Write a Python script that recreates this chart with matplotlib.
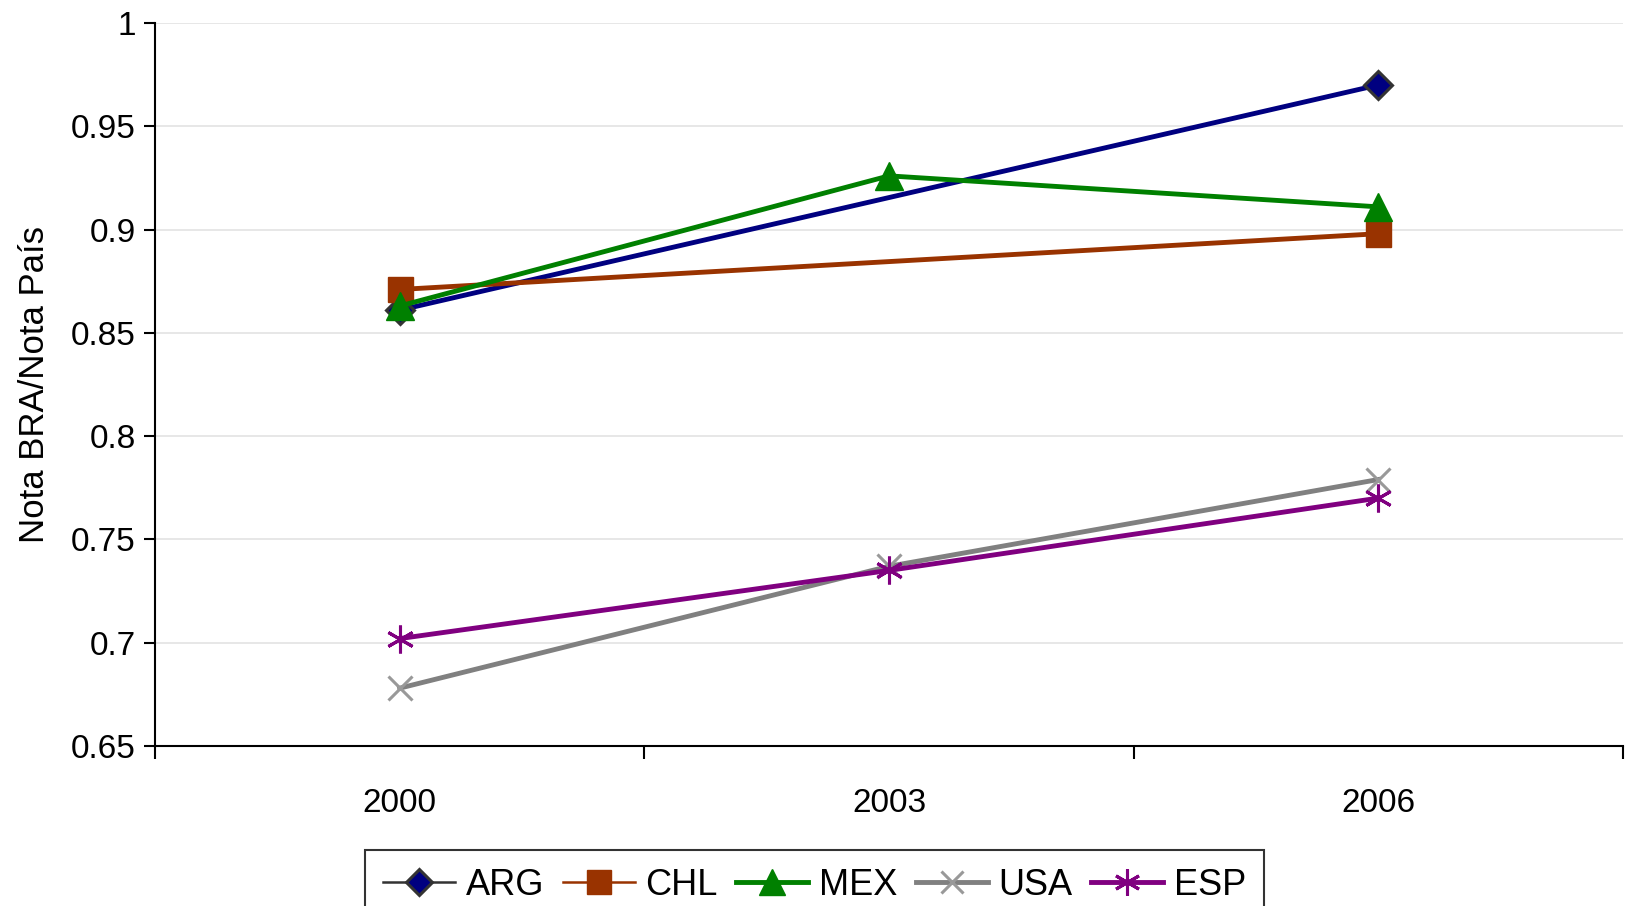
import numpy as np
import matplotlib
matplotlib.use("Agg")
import matplotlib.pyplot as plt
from matplotlib.lines import Line2D

plt.rcParams['font.family'] = ['Liberation Sans', 'DejaVu Sans']

years = ['2000', '2003', '2006']
arg = [0.861, np.nan, 0.970]
chl = [0.871, np.nan, 0.898]
mex = [0.863, 0.926, 0.911]
usa = [0.678, 0.737, 0.779]
esp = [0.702, 0.735, 0.770]

series = [
    # name, values, line colour, marker, marker face, marker edge, ms, legend line colour, legend lw
    ('ARG', arg, '#000080', 'D', '#000080', '#333333', 14, '#333333', 1.8),
    ('CHL', chl, '#993300', 's', '#993300', '#993300', 18, '#993300', 1.8),
    ('MEX', mex, '#008000', '^', '#008000', '#008000', 20, '#008000', 3.5),
    ('USA', usa, '#808080', 'x', '#999999', '#999999', 17, '#808080', 3.5),
    ('ESP', esp, '#800080', (6, 2, 0), '#800080', '#800080', 20, '#800080', 3.5),
]
thin = ('x', (6, 2, 0), 'D')

fig = plt.figure(figsize=(16.29, 9.06), dpi=100)
ax = fig.add_axes([155 / 1629, 1 - 746 / 906, (1623 - 155) / 1629, (746 - 23) / 906])

x = np.arange(len(years))
handles = []
for name, vals, col, mk, mfc, mec, ms, lcol, llw in series:
    v = np.array(vals, dtype=float)
    ok = ~np.isnan(v)
    mew = 2.2 if mk in thin else 1
    ax.plot(x[ok], v[ok], color=col, lw=3.5, marker=mk, ms=ms,
            mfc=mfc, mec=mec, mew=mew, zorder=3)
    handles.append(Line2D([], [], color=lcol, lw=llw, marker=mk, ms=ms * 0.95,
                          mfc=mfc, mec=mec, mew=mew))

ax.set_xlim(-0.5, 2.5)
ax.set_ylim(0.65, 1.0)
ax.set_yticks(np.arange(0.65, 1.001, 0.05))
ax.set_yticklabels(['0.65', '0.7', '0.75', '0.8', '0.85', '0.9', '0.95', '1'])
ax.set_xticks([-0.5, 0.5, 1.5, 2.5])
ax.set_xticklabels([])
ax.set_xticks(x, minor=True)
ax.set_xticklabels(years, minor=True)
ax.tick_params(axis='x', which='minor', length=0, pad=30, labelsize=24)
ax.tick_params(axis='x', which='major', length=9, width=1.5, direction='out')
ax.tick_params(axis='y', length=8, width=1.5, direction='out', labelsize=24, pad=6)
ax.yaxis.grid(True, color='#e3e3e3', lw=1.2)
ax.set_axisbelow(True)
for s in ('top', 'right'):
    ax.spines[s].set_visible(False)
for s in ('left', 'bottom'):
    ax.spines[s].set_linewidth(1.5)

ax.set_ylabel('Nota BRA/Nota País', fontsize=25, labelpad=14)

leg = fig.legend(handles, [s[0] for s in series], loc='upper center',
                 bbox_to_anchor=(0.5, 1 - 850 / 906), ncol=5, fontsize=26,
                 frameon=True, fancybox=False, edgecolor='black',
                 handlelength=2.0, handletextpad=0.3, columnspacing=0.5,
                 borderpad=0.5, borderaxespad=0)
leg.get_frame().set_linewidth(1.5)

fig.savefig('out.png', dpi=100)
